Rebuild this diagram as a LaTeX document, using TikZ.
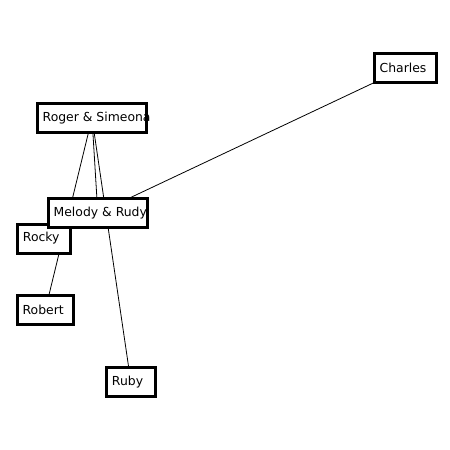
\documentclass[tikz,border=0pt]{standalone}
\usepackage{fontspec}
\setmainfont{DejaVu Sans}
\usetikzlibrary{backgrounds}
\newcommand{\bxtext}[2]{\makebox[#1][l]{\hspace{5.5pt}#2}}
\tikzset{
  person/.style={draw=black, fill=white, line width=3pt, rectangle, inner xsep=0pt, inner ysep=0pt, minimum height=29pt, font=\fontsize{12.4}{14}\selectfont},
  link/.style={draw=black, line width=0.8pt}
}
\begin{document}
\begin{tikzpicture}[x=1pt,y=-1pt]
\useasboundingbox (0,0) rectangle (450,450);
\node[person] (roger) at (92,118) {\bxtext{109.6pt}{Roger \& Simeona}};
\node[person] (charles) at (405.5,67.8) {\bxtext{62.6pt}{Charles}};
\node[person] (rocky) at (43.8,238.5) {\bxtext{52.7pt}{Rocky}};
\node[person] (melody) at (97.8,213) {\bxtext{99.3pt}{Melody \& Rudy}};
\node[person] (robert) at (45.3,310) {\bxtext{56.3pt}{Robert}};
\node[person] (ruby) at (130.8,381.7) {\bxtext{48.7pt}{Ruby}};
\begin{scope}[on background layer]
\fill[white] (0,0) rectangle (450,450);
\draw[link] (roger.center) -- (robert.center);
\draw[link] (roger.center) -- (melody.center);
\draw[link] (roger.center) -- (ruby.center);
\draw[link] (charles.center) -- (melody.center);
\end{scope}
\end{tikzpicture}
\end{document}
